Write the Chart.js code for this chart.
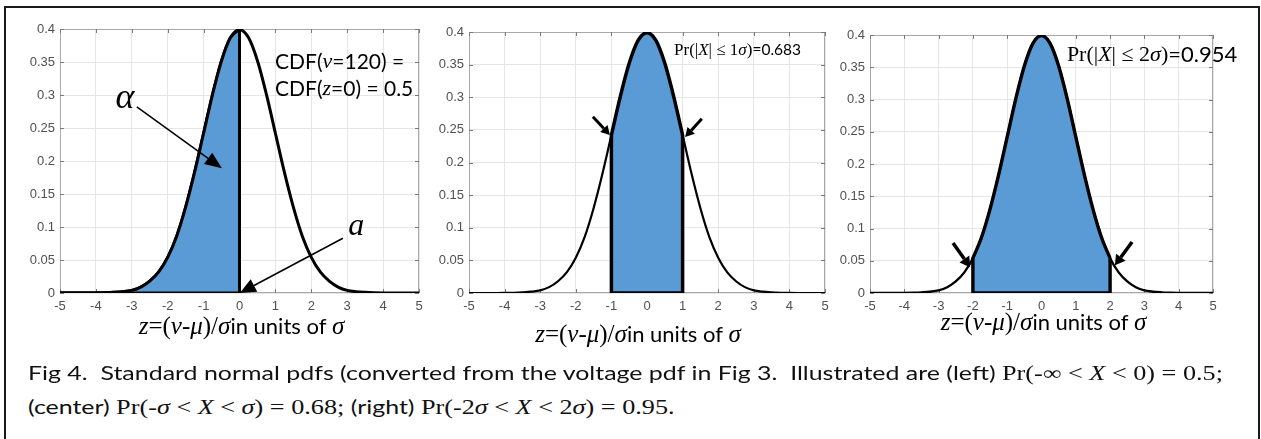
<!DOCTYPE html>
<html>
<head>
<meta charset="utf-8">
<script src="https://cdn.jsdelivr.net/npm/chart.js@4"></script>
<style>
    html, body { margin: 0; padding: 0; background: #fff; }
    body { width: 1261px; height: 439px; position: relative; overflow: hidden; }
    #frame { position: absolute; left: 4px; top: 6px; width: 1252px; height: 440px;
             border: 2px solid #1a1a1a; border-bottom: none; }
    canvas.panel { position: absolute; }
    .cap { position: absolute; left: 28px; height: 24px; line-height: 24px; white-space: nowrap;
           font-family: Lato, "Liberation Sans", sans-serif; font-size: 19.5px; color: #111;
           transform-origin: 0 50%; }
    .cap .m { font-family: "Liberation Serif", "Times New Roman", serif; font-size: 20.5px; }
</style>
</head>
<body>
<div id="frame"></div>
<canvas id="p1" class="panel"></canvas>
<canvas id="p2" class="panel"></canvas>
<canvas id="p3" class="panel"></canvas>
<div class="cap" id="cap1" style="top:361px">Fig 4.&nbsp; Standard normal pdfs (converted from the voltage pdf in Fig 3.&nbsp; Illustrated are (left) <span class="m">Pr(-∞ &lt; <i>X</i> &lt; 0) = 0.5;</span></div>
<div class="cap" id="cap2" style="top:395px">(center) <span class="m">Pr(-<i>σ</i> &lt; <i>X</i> &lt; <i>σ</i>) = 0.68;</span> (right) <span class="m">Pr(-2<i>σ</i> &lt; <i>X</i> &lt; 2<i>σ</i>) = 0.95.</span></div>

<script>
// values (same curve in all three panels)
const zValues = [-5, -4.75, -4.5, -4.25, -4, -3.75, -3.5, -3.25, -3, -2.75, -2.5, -2.25, -2, -1.75, -1.5, -1.25, -1, -0.75, -0.5, -0.25,
    0, 0.25, 0.5, 0.75, 1, 1.25, 1.5, 1.75, 2, 2.25, 2.5, 2.75, 3, 3.25, 3.5, 3.75, 4, 4.25, 4.5, 4.75, 5];
const pdfValues = [0, 0, 0, 0, 0.0001, 0.0004, 0.001, 0.002, 0.004, 0.009, 0.018, 0.032, 0.054, 0.086, 0.130, 0.183, 0.242, 0.301, 0.352, 0.387,
    0.399, 0.387, 0.352, 0.301, 0.242, 0.183, 0.130, 0.086, 0.054, 0.032, 0.018, 0.009, 0.004, 0.002, 0.001, 0.0004, 0.0001, 0, 0, 0, 0];
// shaded intervals: left, center, right panel
const shadeFrom = [-5, -1, -2];
const shadeTo = [0, 1, 2];
const xTickLabels = ["-5", "-4", "-3", "-2", "-1", "0", "1", "2", "3", "4", "5"];
const yTickLabels = ["0", "0.05", "0.1", "0.15", "0.2", "0.25", "0.3", "0.35", "0.4"];

const FILLCOLOR = "#5b9bd5";
const GRIDCOLOR = "#e6e6e6";
const BOXCOLOR = "#a8a8a8";
const TICKCOLOR = "#505050";
const SERIF = '"Liberation Serif", "Times New Roman", serif';
const SANS = 'Lato, "Liberation Sans", sans-serif';

// plot-area rectangles in page pixels, line widths and decorations
const PANELS = [
    {
        id: "p1", rect: {l: 60, t: 29, r: 419, b: 293}, curveW: 3, outlineW: 3, titleDx: 2, titleDy: 34,
        texts: [
            {x: -3.19, y: 0.295, align: "center", runs: [["α", "italic 36px " + SERIF]]},
            {x: 3.25, y: 0.1, align: "center", runs: [["a", "italic 32px " + SERIF]]},
            {x: 0.99, y: 0.35, align: "left", runs: [["CDF(", "21px " + SANS], ["v", "italic 22px " + SERIF], ["=120) =", "21px " + SANS]]},
            {x: 0.99, y: 0.309, align: "left", runs: [["CDF(", "21px " + SANS], ["z", "italic 22px " + SERIF], ["=0) = 0.5", "21px " + SANS]]}
        ],
        arrows: [
            {from: [-2.86, 0.282], to: [-0.49, 0.189], w: 1.5, len: 17, half: 7},
            {from: [2.88, 0.083], to: [0.01, 0.0], w: 1.5, len: 16, half: 7}
        ]
    },
    {
        id: "p2", rect: {l: 469, t: 32, r: 825, b: 293}, curveW: 2.2, outlineW: 3.5, titleDx: -9, titleDy: 42,
        texts: [
            {x: 0.76, y: 0.372, align: "left", runs: [["Pr(|", "17px " + SERIF], ["X", "italic 17px " + SERIF], ["| ≤ 1", "17px " + SERIF],
                ["σ", "italic 17px " + SERIF], [")", "17px " + SERIF], ["=0.683", "15.5px " + SANS]]}
        ],
        arrows: [
            {from: [-1.52, 0.27], to: [-1.04, 0.242], w: 3, len: 9, half: 5},
            {from: [1.54, 0.267], to: [1.07, 0.239], w: 3, len: 9, half: 5}
        ]
    },
    {
        id: "p3", rect: {l: 870, t: 35, r: 1213, b: 293}, curveW: 2.4, outlineW: 3.4, titleDx: 2, titleDy: 30,
        texts: [
            {x: 0.74, y: 0.369, align: "left", runs: [["Pr(|", "22px " + SERIF], ["X", "italic 22px " + SERIF], ["| ≤ 2", "22px " + SERIF],
                ["σ", "italic 22px " + SERIF], [")", "22px " + SERIF], ["=0.954", "22px " + SANS]]}
        ],
        arrows: [
            {from: [-2.58, 0.0775], to: [-2.08, 0.04], w: 3.5, len: 10, half: 6},
            {from: [2.64, 0.079], to: [2.14, 0.043], w: 3.5, len: 10, half: 6}
        ]
    }
];

const TITLERUNS = [["z", "italic 25px " + SERIF], ["=(", "25px " + SERIF], ["v", "italic 25px " + SERIF], ["-", "25px " + SERIF],
    ["μ", "italic 25px " + SERIF], [")/", "25px " + SERIF], ["σ", "italic 25px " + SERIF], ["in units of ", "22px " + SANS],
    ["σ", "italic 25px " + SERIF]];

const MARGIN = {left: 45, right: 40, top: 15, bottom: 75};

function drawRuns(ctx, runs, x, y, align) {
    let width = 0;
    runs.forEach(r => { ctx.font = r[1]; width += ctx.measureText(r[0]).width; });
    let cx = align === "center" ? x - width / 2 : x;
    ctx.textAlign = "left";
    ctx.textBaseline = "middle";
    ctx.fillStyle = "#000";
    runs.forEach(r => {
        ctx.font = r[1];
        ctx.fillText(r[0], cx, y);
        cx += ctx.measureText(r[0]).width;
    });
}

function drawArrow(ctx, x1, y1, x2, y2, a) {
    const ang = Math.atan2(y2 - y1, x2 - x1);
    const bx = x2 - a.len * Math.cos(ang);
    const by = y2 - a.len * Math.sin(ang);
    ctx.strokeStyle = "#000";
    ctx.fillStyle = "#000";
    ctx.lineWidth = a.w;
    ctx.beginPath();
    ctx.moveTo(x1, y1);
    ctx.lineTo(bx, by);
    ctx.stroke();
    ctx.beginPath();
    ctx.moveTo(x2, y2);
    ctx.lineTo(bx + a.half * Math.sin(ang), by - a.half * Math.cos(ang));
    ctx.lineTo(bx - a.half * Math.sin(ang), by + a.half * Math.cos(ang));
    ctx.closePath();
    ctx.fill();
}

const panelDecor = {
    id: "panelDecor",
    beforeDatasetsDraw(chart) {
        const {ctx, chartArea: ca, scales} = chart;
        ctx.save();
        ctx.strokeStyle = BOXCOLOR;
        ctx.lineWidth = 1;
        ctx.strokeRect(ca.left + 0.5, ca.top + 0.5, ca.right - ca.left - 1, ca.bottom - ca.top - 1);
        ctx.strokeStyle = "#7a7a7a";
        ctx.beginPath();
        scales.x.ticks.forEach(t => {
            const px = Math.round(scales.x.getPixelForValue(t.value)) + 0.5;
            ctx.moveTo(px, ca.bottom); ctx.lineTo(px, ca.bottom - 4);
            ctx.moveTo(px, ca.top); ctx.lineTo(px, ca.top + 4);
        });
        scales.y.ticks.forEach(t => {
            const py = Math.round(scales.y.getPixelForValue(t.value)) + 0.5;
            ctx.moveTo(ca.left, py); ctx.lineTo(ca.left + 4, py);
            ctx.moveTo(ca.right, py); ctx.lineTo(ca.right - 4, py);
        });
        ctx.stroke();
        ctx.restore();
    },
    afterDatasetsDraw(chart, args, opts) {
        const {ctx, chartArea: ca, scales} = chart;
        const p = opts.panel;
        ctx.save();
        p.arrows.forEach(a => {
            drawArrow(ctx, scales.x.getPixelForValue(a.from[0]), scales.y.getPixelForValue(a.from[1]),
                scales.x.getPixelForValue(a.to[0]), scales.y.getPixelForValue(a.to[1]), a);
        });
        p.texts.forEach(t => {
            drawRuns(ctx, t.runs, scales.x.getPixelForValue(t.x), scales.y.getPixelForValue(t.y), t.align);
        });
        drawRuns(ctx, TITLERUNS, (ca.left + ca.right) / 2 + p.titleDx, ca.bottom + p.titleDy, "center");
        ctx.restore();
    }
};

function makePanel(p, i) {
    const from = shadeFrom[i];
    const to = shadeTo[i];
    const curve = zValues.map((z, k) => ({x: z, y: pdfValues[k]}));
    const shaded = curve.filter(pt => pt.x >= from && pt.x <= to);
    const topFrom = shaded[0].y;
    const topTo = shaded[shaded.length - 1].y;
    const edges = [{x: from, y: topFrom}, {x: from, y: 0}, {x: to, y: 0}, {x: to, y: topTo}];

    const canvas = document.querySelector("#" + p.id);
    const w = p.rect.r - p.rect.l + MARGIN.left + MARGIN.right;
    const h = p.rect.b - p.rect.t + MARGIN.top + MARGIN.bottom;
    canvas.width = w;
    canvas.height = h;
    canvas.style.left = (p.rect.l - MARGIN.left) + "px";
    canvas.style.top = (p.rect.t - MARGIN.top) + "px";

    const tickFont = {family: '"Liberation Sans", Arial, sans-serif', size: 13};
    new Chart(canvas.getContext("2d"), {
        type: "line",
        data: {
            datasets: [
                {data: shaded, fill: "origin", backgroundColor: FILLCOLOR, borderColor: "#000", borderWidth: p.outlineW,
                    pointRadius: 0, cubicInterpolationMode: "monotone", order: 1},
                {data: curve, fill: false, borderColor: "#000", borderWidth: p.curveW,
                    pointRadius: 0, cubicInterpolationMode: "monotone", order: 2},
                {data: edges, fill: false, borderColor: "#000", borderWidth: p.outlineW,
                    pointRadius: 0, tension: 0, borderJoinStyle: "round", order: 0}
            ]
        },
        options: {
            responsive: false,
            animation: false,
            events: [],
            layout: {padding: {left: 0, right: MARGIN.right, top: MARGIN.top, bottom: MARGIN.bottom - 22}},
            plugins: {
                legend: {display: false},
                tooltip: {enabled: false},
                panelDecor: {panel: p}
            },
            scales: {
                x: {
                    type: "linear", min: -5, max: 5,
                    ticks: {stepSize: 1, autoSkip: false, maxRotation: 0, padding: 6, color: TICKCOLOR, font: tickFont,
                        callback: v => xTickLabels[Math.round(v) + 5]},
                    grid: {color: GRIDCOLOR, drawTicks: false},
                    border: {display: false},
                    afterFit: s => { s.height = 22; }
                },
                y: {
                    min: 0, max: 0.4,
                    ticks: {stepSize: 0.05, autoSkip: false, padding: 5, color: TICKCOLOR, font: tickFont,
                        callback: v => yTickLabels[Math.round(v / 0.05)]},
                    grid: {color: GRIDCOLOR, drawTicks: false},
                    border: {display: false},
                    afterFit: s => { s.width = MARGIN.left; }
                }
            }
        },
        plugins: [panelDecor]
    });
}

PANELS.forEach(makePanel);

// squeeze the caption to the width it has in the figure
const cap1 = document.querySelector("#cap1");
const cap2 = document.querySelector("#cap2");
const squeeze = 1195 / cap1.getBoundingClientRect().width;
cap1.style.transform = "scaleX(" + squeeze + ")";
cap2.style.transform = "scaleX(" + squeeze + ")";
</script>
</body>
</html>
